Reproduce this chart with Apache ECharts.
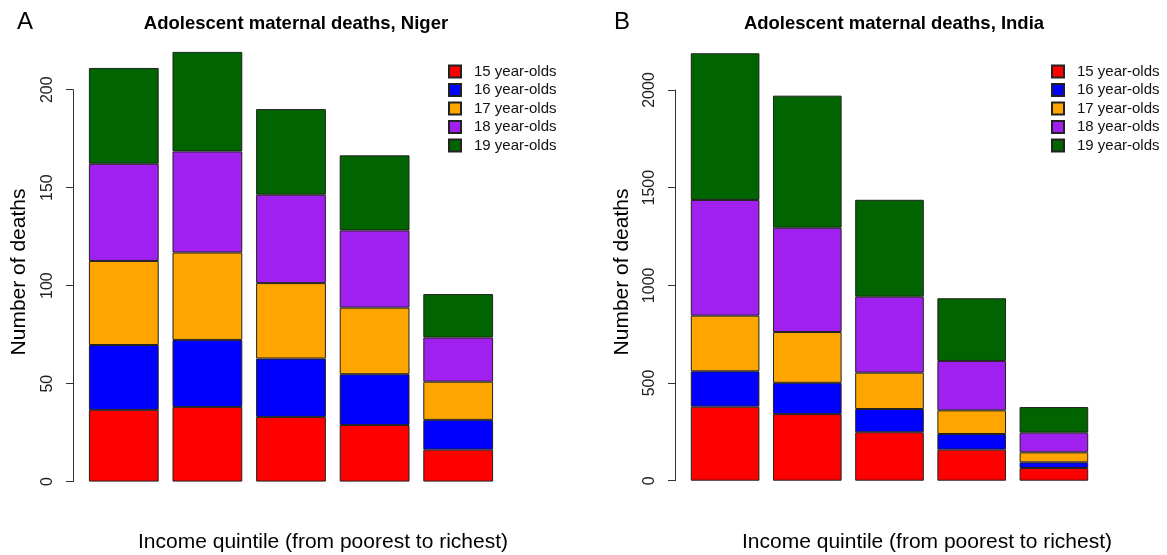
<!DOCTYPE html>
<html>
<head>
<meta charset="utf-8">
<script src="https://cdn.jsdelivr.net/npm/echarts@6/dist/echarts.min.js"></script>
<style>
html,body{margin:0;padding:0;background:#fff;}
#chart{width:1167px;height:555px;}
</style>
</head>
<body>
<div id="chart"></div>
<script>
// ---- data ----
var quintiles = ['Q1 (poorest)', 'Q2', 'Q3', 'Q4', 'Q5 (richest)'];
var ageGroups = ['15 year-olds', '16 year-olds', '17 year-olds', '18 year-olds', '19 year-olds'];
var ageColors = ['#FF0000', '#0000FF', '#FFA500', '#A020F0', '#006400'];

var nigerAge15 = [36.6, 38.1, 33.0, 28.9, 16.3];
var nigerAge16 = [33.1, 34.2, 29.8, 25.9, 15.2];
var nigerAge17 = [42.9, 44.6, 38.5, 34.0, 19.5];
var nigerAge18 = [49.6, 51.6, 45.1, 39.4, 22.5];
var nigerAge19 = [48.9, 50.8, 43.7, 38.3, 22.2];

var indiaAge15 = [379, 341, 248, 159, 65];
var indiaAge16 = [181, 160, 119, 80, 29];
var indiaAge17 = [285, 260, 186, 121, 51];
var indiaAge18 = [592, 534, 389, 253, 101];
var indiaAge19 = [751, 676, 496, 321, 131];

var nigerTicks = {min: 0, max: 200, interval: 50};
var indiaTicks = {min: 0, max: 2000, interval: 500};

var titleNiger = 'Adolescent maternal deaths, Niger';
var titleIndia = 'Adolescent maternal deaths, India';
var yTitle = 'Number of deaths';
var xTitle = 'Income quintile (from poorest to richest)';

// ---- chart ----
var FONT = '"Liberation Sans", Arial, Helvetica, sans-serif';
var nigerData = [nigerAge15, nigerAge16, nigerAge17, nigerAge18, nigerAge19];
var indiaData = [indiaAge15, indiaAge16, indiaAge17, indiaAge18, indiaAge19];

function makeSeries(dataSets, idx, stack) {
  return dataSets.map(function (d, i) {
    return {
      name: ageGroups[i],
      type: 'bar',
      stack: stack,
      xAxisIndex: idx,
      yAxisIndex: idx,
      data: d,
      clip: false,
      barCategoryGap: '16.5%',
      itemStyle: {color: ageColors[i], borderColor: '#222', borderWidth: 1},
      emphasis: {disabled: true},
      animation: false
    };
  });
}

function yAxisCfg(idx, t) {
  return {
    type: 'value', gridIndex: idx, min: t.min, max: t.max, interval: t.interval,
    offset: 9,
    axisLine: {show: true, lineStyle: {color: '#333', width: 1}},
    axisTick: {show: true, length: 7, lineStyle: {color: '#333', width: 1}},
    axisLabel: {rotate: 90, margin: 17, fontSize: 16, color: '#222', fontFamily: FONT,
      formatter: function (v) { return String(v); }},
    splitLine: {show: false}
  };
}

function legendCfg(left) {
  return {
    orient: 'vertical', left: left, top: 59,
    data: ageGroups, icon: 'rect', itemWidth: 12, itemHeight: 12, itemGap: 3.5,
    textStyle: {fontSize: 15, color: '#111', fontFamily: FONT, lineHeight: 15, padding: [0, 0, 0, 8]},
    selectedMode: false
  };
}

var chart = echarts.init(document.getElementById('chart'));
chart.setOption({
  backgroundColor: '#fff',
  animation: false,
  title: [
    {text: 'A', left: 12, top: 5, textStyle: {fontSize: 24, fontWeight: 'normal', color: '#000', fontFamily: FONT}},
    {text: titleNiger, left: 291, top: 9, textAlign: 'center', textStyle: {fontSize: 18.5, fontWeight: 'bold', color: '#000', fontFamily: FONT}},
    {text: 'B', left: 609, top: 5, textStyle: {fontSize: 24, fontWeight: 'normal', color: '#000', fontFamily: FONT}},
    {text: titleIndia, left: 889, top: 9, textAlign: 'center', textStyle: {fontSize: 18.5, fontWeight: 'bold', color: '#000', fontFamily: FONT}}
  ],
  legend: [legendCfg(443), legendCfg(1046)],
  grid: [
    {left: 82, width: 418, top: 89.7, bottom: 73.4, containLabel: false},
    {left: 684, width: 411, top: 90, bottom: 74.3, containLabel: false}
  ],
  xAxis: [
    {type: 'category', gridIndex: 0, data: quintiles, show: false},
    {type: 'category', gridIndex: 1, data: quintiles, show: false}
  ],
  yAxis: [yAxisCfg(0, nigerTicks), yAxisCfg(1, indiaTicks)],
  graphic: [
    {type: 'text', x: 19, y: 272, rotation: Math.PI / 2,
     style: {text: yTitle, font: '21px ' + FONT, fill: '#000', textAlign: 'center', textVerticalAlign: 'middle'}},
    {type: 'text', x: 622, y: 272, rotation: Math.PI / 2,
     style: {text: yTitle, font: '21px ' + FONT, fill: '#000', textAlign: 'center', textVerticalAlign: 'middle'}},
    {type: 'text', x: 323, y: 542,
     style: {text: xTitle, font: '21px ' + FONT, fill: '#000', textAlign: 'center', textVerticalAlign: 'middle'}},
    {type: 'text', x: 927, y: 542,
     style: {text: xTitle, font: '21px ' + FONT, fill: '#000', textAlign: 'center', textVerticalAlign: 'middle'}}
  ],
  series: makeSeries(nigerData, 0, 'niger').concat(makeSeries(indiaData, 1, 'india'))
});
</script>
</body>
</html>
